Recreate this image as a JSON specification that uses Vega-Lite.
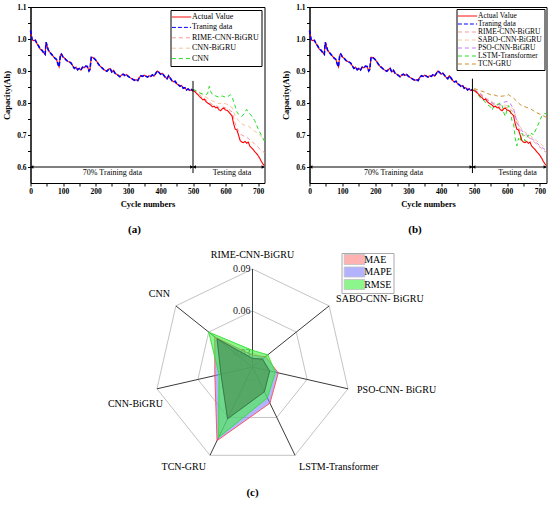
{
  "$schema": "https://vega.github.io/schema/vega-lite/v6.json",
  "padding": {"left": 1.5, "top": 2, "right": 3, "bottom": 3},
  "spacing": 15,
  "resolve": {"legend": {"fill": "independent", "color": "independent", "strokeDash": "independent"}},
  "config": {
    "font": "Liberation Serif",
    "view": {"stroke": "black", "strokeWidth": 1},
    "axis": {
      "labelFont": "Liberation Serif", "labelFontWeight": "bold", "labelFontSize": 7.5, "labelColor": "black",
      "titleFont": "Liberation Serif", "titleFontWeight": "bold", "titleFontSize": 8.5, "titleColor": "black",
      "domainColor": "black", "tickColor": "black", "tickSize": 3, "grid": false, "labelPadding": 1.5, "labelFlush": false
    },
    "axisX": {"titlePadding": 4},
    "axisY": {"titlePadding": 5},
    "legend": {
      "labelFont": "Liberation Serif", "labelFontSize": 8, "labelColor": "black",
      "strokeColor": "black", "fillColor": "white", "padding": 2.5, "rowPadding": 1.4,
      "symbolType": "M-2.4,0H2.4", "symbolSize": 64, "symbolOffset": 4, "symbolStrokeWidth": 1,
      "labelOffset": 6, "title": null
    },
    "title": {"font": "Liberation Serif", "fontSize": 11, "fontWeight": "bold", "color": "black"}
  },
  "datasets": {
    "actual": [
      {"cycle": 0, "cap": 1.027}, {"cycle": 3, "cap": 1.01}, {"cycle": 5, "cap": 0.998}, {"cycle": 10, "cap": 0.995},
      {"cycle": 15, "cap": 0.996}, {"cycle": 20, "cap": 0.985}, {"cycle": 25, "cap": 0.978}, {"cycle": 30, "cap": 0.968},
      {"cycle": 35, "cap": 0.965}, {"cycle": 40, "cap": 0.958}, {"cycle": 45, "cap": 0.952}, {"cycle": 48, "cap": 0.99},
      {"cycle": 52, "cap": 0.975}, {"cycle": 55, "cap": 0.965}, {"cycle": 60, "cap": 0.958}, {"cycle": 65, "cap": 0.952},
      {"cycle": 70, "cap": 0.946}, {"cycle": 75, "cap": 0.94}, {"cycle": 80, "cap": 0.936}, {"cycle": 85, "cap": 0.92},
      {"cycle": 88, "cap": 0.913}, {"cycle": 92, "cap": 0.95}, {"cycle": 95, "cap": 0.953}, {"cycle": 100, "cap": 0.944},
      {"cycle": 105, "cap": 0.94}, {"cycle": 110, "cap": 0.934}, {"cycle": 115, "cap": 0.93}, {"cycle": 120, "cap": 0.928},
      {"cycle": 125, "cap": 0.925}, {"cycle": 130, "cap": 0.916}, {"cycle": 135, "cap": 0.908}, {"cycle": 140, "cap": 0.912},
      {"cycle": 145, "cap": 0.904}, {"cycle": 150, "cap": 0.908}, {"cycle": 155, "cap": 0.903}, {"cycle": 160, "cap": 0.912},
      {"cycle": 165, "cap": 0.91}, {"cycle": 170, "cap": 0.915}, {"cycle": 175, "cap": 0.914}, {"cycle": 180, "cap": 0.9},
      {"cycle": 183, "cap": 0.905}, {"cycle": 187, "cap": 0.943}, {"cycle": 190, "cap": 0.943}, {"cycle": 195, "cap": 0.94},
      {"cycle": 200, "cap": 0.935}, {"cycle": 205, "cap": 0.928}, {"cycle": 210, "cap": 0.92}, {"cycle": 215, "cap": 0.914},
      {"cycle": 220, "cap": 0.91}, {"cycle": 225, "cap": 0.905}, {"cycle": 230, "cap": 0.902}, {"cycle": 235, "cap": 0.899},
      {"cycle": 240, "cap": 0.905}, {"cycle": 245, "cap": 0.908}, {"cycle": 250, "cap": 0.897}, {"cycle": 255, "cap": 0.902},
      {"cycle": 260, "cap": 0.893}, {"cycle": 265, "cap": 0.89}, {"cycle": 270, "cap": 0.886}, {"cycle": 275, "cap": 0.882},
      {"cycle": 280, "cap": 0.887}, {"cycle": 285, "cap": 0.89}, {"cycle": 290, "cap": 0.886}, {"cycle": 295, "cap": 0.889},
      {"cycle": 300, "cap": 0.884}, {"cycle": 305, "cap": 0.88}, {"cycle": 310, "cap": 0.877}, {"cycle": 315, "cap": 0.874},
      {"cycle": 320, "cap": 0.871}, {"cycle": 325, "cap": 0.873}, {"cycle": 330, "cap": 0.87}, {"cycle": 335, "cap": 0.88},
      {"cycle": 340, "cap": 0.885}, {"cycle": 345, "cap": 0.883}, {"cycle": 350, "cap": 0.887}, {"cycle": 355, "cap": 0.884},
      {"cycle": 360, "cap": 0.881}, {"cycle": 365, "cap": 0.885}, {"cycle": 370, "cap": 0.883}, {"cycle": 375, "cap": 0.888},
      {"cycle": 380, "cap": 0.884}, {"cycle": 385, "cap": 0.892}, {"cycle": 390, "cap": 0.9}, {"cycle": 395, "cap": 0.896},
      {"cycle": 400, "cap": 0.89}, {"cycle": 405, "cap": 0.893}, {"cycle": 410, "cap": 0.887}, {"cycle": 415, "cap": 0.88},
      {"cycle": 420, "cap": 0.876}, {"cycle": 425, "cap": 0.885}, {"cycle": 430, "cap": 0.878}, {"cycle": 435, "cap": 0.87},
      {"cycle": 440, "cap": 0.866}, {"cycle": 445, "cap": 0.868}, {"cycle": 450, "cap": 0.86}, {"cycle": 455, "cap": 0.857},
      {"cycle": 460, "cap": 0.852}, {"cycle": 465, "cap": 0.855}, {"cycle": 470, "cap": 0.846}, {"cycle": 475, "cap": 0.848},
      {"cycle": 480, "cap": 0.841}, {"cycle": 485, "cap": 0.844}, {"cycle": 490, "cap": 0.839}, {"cycle": 495, "cap": 0.842},
      {"cycle": 500, "cap": 0.838}, {"cycle": 505, "cap": 0.836}, {"cycle": 510, "cap": 0.831}, {"cycle": 515, "cap": 0.826},
      {"cycle": 520, "cap": 0.82}, {"cycle": 525, "cap": 0.816}, {"cycle": 530, "cap": 0.81}, {"cycle": 535, "cap": 0.812},
      {"cycle": 540, "cap": 0.804}, {"cycle": 545, "cap": 0.8}, {"cycle": 550, "cap": 0.797}, {"cycle": 555, "cap": 0.793},
      {"cycle": 560, "cap": 0.788}, {"cycle": 565, "cap": 0.79}, {"cycle": 570, "cap": 0.785}, {"cycle": 575, "cap": 0.786},
      {"cycle": 580, "cap": 0.779}, {"cycle": 585, "cap": 0.776}, {"cycle": 590, "cap": 0.782}, {"cycle": 595, "cap": 0.784},
      {"cycle": 600, "cap": 0.778}, {"cycle": 605, "cap": 0.777}, {"cycle": 610, "cap": 0.772}, {"cycle": 615, "cap": 0.766},
      {"cycle": 620, "cap": 0.76}, {"cycle": 625, "cap": 0.735}, {"cycle": 630, "cap": 0.718}, {"cycle": 635, "cap": 0.716},
      {"cycle": 640, "cap": 0.7}, {"cycle": 645, "cap": 0.683}, {"cycle": 650, "cap": 0.678}, {"cycle": 655, "cap": 0.676},
      {"cycle": 660, "cap": 0.68}, {"cycle": 665, "cap": 0.674}, {"cycle": 670, "cap": 0.678}, {"cycle": 675, "cap": 0.665},
      {"cycle": 680, "cap": 0.66}, {"cycle": 685, "cap": 0.655}, {"cycle": 690, "cap": 0.648}, {"cycle": 695, "cap": 0.643},
      {"cycle": 700, "cap": 0.636}, {"cycle": 705, "cap": 0.628}, {"cycle": 710, "cap": 0.618}, {"cycle": 715, "cap": 0.61},
      {"cycle": 720, "cap": 0.604}
    ],
    "predA": [
      {"series": "RIME-CNN-BiGRU", "cycle": 500, "cap": 0.84}, {"series": "RIME-CNN-BiGRU", "cycle": 510, "cap": 0.834},
      {"series": "RIME-CNN-BiGRU", "cycle": 520, "cap": 0.826}, {"series": "RIME-CNN-BiGRU", "cycle": 530, "cap": 0.816},
      {"series": "RIME-CNN-BiGRU", "cycle": 540, "cap": 0.81}, {"series": "RIME-CNN-BiGRU", "cycle": 550, "cap": 0.803},
      {"series": "RIME-CNN-BiGRU", "cycle": 560, "cap": 0.795}, {"series": "RIME-CNN-BiGRU", "cycle": 570, "cap": 0.792},
      {"series": "RIME-CNN-BiGRU", "cycle": 580, "cap": 0.786}, {"series": "RIME-CNN-BiGRU", "cycle": 590, "cap": 0.788},
      {"series": "RIME-CNN-BiGRU", "cycle": 600, "cap": 0.785}, {"series": "RIME-CNN-BiGRU", "cycle": 610, "cap": 0.78},
      {"series": "RIME-CNN-BiGRU", "cycle": 620, "cap": 0.772}, {"series": "RIME-CNN-BiGRU", "cycle": 630, "cap": 0.735},
      {"series": "RIME-CNN-BiGRU", "cycle": 640, "cap": 0.712}, {"series": "RIME-CNN-BiGRU", "cycle": 650, "cap": 0.7},
      {"series": "RIME-CNN-BiGRU", "cycle": 660, "cap": 0.695}, {"series": "RIME-CNN-BiGRU", "cycle": 670, "cap": 0.69},
      {"series": "RIME-CNN-BiGRU", "cycle": 680, "cap": 0.68}, {"series": "RIME-CNN-BiGRU", "cycle": 690, "cap": 0.672},
      {"series": "RIME-CNN-BiGRU", "cycle": 700, "cap": 0.662}, {"series": "RIME-CNN-BiGRU", "cycle": 710, "cap": 0.652},
      {"series": "RIME-CNN-BiGRU", "cycle": 720, "cap": 0.645},
      {"series": "CNN-BiGRU", "cycle": 500, "cap": 0.842}, {"series": "CNN-BiGRU", "cycle": 510, "cap": 0.838},
      {"series": "CNN-BiGRU", "cycle": 520, "cap": 0.832}, {"series": "CNN-BiGRU", "cycle": 530, "cap": 0.824},
      {"series": "CNN-BiGRU", "cycle": 540, "cap": 0.818}, {"series": "CNN-BiGRU", "cycle": 550, "cap": 0.812},
      {"series": "CNN-BiGRU", "cycle": 560, "cap": 0.806}, {"series": "CNN-BiGRU", "cycle": 570, "cap": 0.803},
      {"series": "CNN-BiGRU", "cycle": 580, "cap": 0.798}, {"series": "CNN-BiGRU", "cycle": 590, "cap": 0.8},
      {"series": "CNN-BiGRU", "cycle": 600, "cap": 0.798}, {"series": "CNN-BiGRU", "cycle": 610, "cap": 0.793},
      {"series": "CNN-BiGRU", "cycle": 620, "cap": 0.786}, {"series": "CNN-BiGRU", "cycle": 630, "cap": 0.76},
      {"series": "CNN-BiGRU", "cycle": 640, "cap": 0.745}, {"series": "CNN-BiGRU", "cycle": 650, "cap": 0.735},
      {"series": "CNN-BiGRU", "cycle": 660, "cap": 0.73}, {"series": "CNN-BiGRU", "cycle": 670, "cap": 0.728},
      {"series": "CNN-BiGRU", "cycle": 680, "cap": 0.72}, {"series": "CNN-BiGRU", "cycle": 690, "cap": 0.712},
      {"series": "CNN-BiGRU", "cycle": 700, "cap": 0.705}, {"series": "CNN-BiGRU", "cycle": 710, "cap": 0.695},
      {"series": "CNN-BiGRU", "cycle": 720, "cap": 0.685},
      {"series": "CNN", "cycle": 500, "cap": 0.843}, {"series": "CNN", "cycle": 510, "cap": 0.838},
      {"series": "CNN", "cycle": 520, "cap": 0.832}, {"series": "CNN", "cycle": 530, "cap": 0.828},
      {"series": "CNN", "cycle": 540, "cap": 0.826}, {"series": "CNN", "cycle": 545, "cap": 0.83},
      {"series": "CNN", "cycle": 550, "cap": 0.852}, {"series": "CNN", "cycle": 555, "cap": 0.835},
      {"series": "CNN", "cycle": 560, "cap": 0.826}, {"series": "CNN", "cycle": 570, "cap": 0.822},
      {"series": "CNN", "cycle": 580, "cap": 0.818}, {"series": "CNN", "cycle": 590, "cap": 0.822},
      {"series": "CNN", "cycle": 600, "cap": 0.818}, {"series": "CNN", "cycle": 610, "cap": 0.822},
      {"series": "CNN", "cycle": 615, "cap": 0.826}, {"series": "CNN", "cycle": 620, "cap": 0.82},
      {"series": "CNN", "cycle": 625, "cap": 0.805}, {"series": "CNN", "cycle": 630, "cap": 0.79},
      {"series": "CNN", "cycle": 635, "cap": 0.772}, {"series": "CNN", "cycle": 640, "cap": 0.765},
      {"series": "CNN", "cycle": 650, "cap": 0.758}, {"series": "CNN", "cycle": 660, "cap": 0.77},
      {"series": "CNN", "cycle": 665, "cap": 0.78}, {"series": "CNN", "cycle": 670, "cap": 0.772},
      {"series": "CNN", "cycle": 680, "cap": 0.76}, {"series": "CNN", "cycle": 690, "cap": 0.745},
      {"series": "CNN", "cycle": 700, "cap": 0.72}, {"series": "CNN", "cycle": 710, "cap": 0.7},
      {"series": "CNN", "cycle": 720, "cap": 0.68}
    ],
    "predB": [
      {"series": "RIME-CNN-BiGRU", "cycle": 500, "cap": 0.84}, {"series": "RIME-CNN-BiGRU", "cycle": 510, "cap": 0.834},
      {"series": "RIME-CNN-BiGRU", "cycle": 520, "cap": 0.826}, {"series": "RIME-CNN-BiGRU", "cycle": 530, "cap": 0.816},
      {"series": "RIME-CNN-BiGRU", "cycle": 540, "cap": 0.81}, {"series": "RIME-CNN-BiGRU", "cycle": 550, "cap": 0.803},
      {"series": "RIME-CNN-BiGRU", "cycle": 560, "cap": 0.795}, {"series": "RIME-CNN-BiGRU", "cycle": 570, "cap": 0.792},
      {"series": "RIME-CNN-BiGRU", "cycle": 580, "cap": 0.786}, {"series": "RIME-CNN-BiGRU", "cycle": 590, "cap": 0.788},
      {"series": "RIME-CNN-BiGRU", "cycle": 600, "cap": 0.785}, {"series": "RIME-CNN-BiGRU", "cycle": 610, "cap": 0.78},
      {"series": "RIME-CNN-BiGRU", "cycle": 620, "cap": 0.772}, {"series": "RIME-CNN-BiGRU", "cycle": 630, "cap": 0.735},
      {"series": "RIME-CNN-BiGRU", "cycle": 640, "cap": 0.712}, {"series": "RIME-CNN-BiGRU", "cycle": 650, "cap": 0.7},
      {"series": "RIME-CNN-BiGRU", "cycle": 660, "cap": 0.695}, {"series": "RIME-CNN-BiGRU", "cycle": 670, "cap": 0.69},
      {"series": "RIME-CNN-BiGRU", "cycle": 680, "cap": 0.68}, {"series": "RIME-CNN-BiGRU", "cycle": 690, "cap": 0.672},
      {"series": "RIME-CNN-BiGRU", "cycle": 700, "cap": 0.662}, {"series": "RIME-CNN-BiGRU", "cycle": 710, "cap": 0.652},
      {"series": "RIME-CNN-BiGRU", "cycle": 720, "cap": 0.645},
      {"series": "SABO-CNN-BiGRU", "cycle": 500, "cap": 0.842}, {"series": "SABO-CNN-BiGRU", "cycle": 510, "cap": 0.837},
      {"series": "SABO-CNN-BiGRU", "cycle": 520, "cap": 0.83}, {"series": "SABO-CNN-BiGRU", "cycle": 530, "cap": 0.821},
      {"series": "SABO-CNN-BiGRU", "cycle": 540, "cap": 0.813}, {"series": "SABO-CNN-BiGRU", "cycle": 550, "cap": 0.807},
      {"series": "SABO-CNN-BiGRU", "cycle": 560, "cap": 0.8}, {"series": "SABO-CNN-BiGRU", "cycle": 570, "cap": 0.797},
      {"series": "SABO-CNN-BiGRU", "cycle": 580, "cap": 0.792}, {"series": "SABO-CNN-BiGRU", "cycle": 590, "cap": 0.794},
      {"series": "SABO-CNN-BiGRU", "cycle": 600, "cap": 0.792}, {"series": "SABO-CNN-BiGRU", "cycle": 610, "cap": 0.788},
      {"series": "SABO-CNN-BiGRU", "cycle": 620, "cap": 0.78}, {"series": "SABO-CNN-BiGRU", "cycle": 630, "cap": 0.748},
      {"series": "SABO-CNN-BiGRU", "cycle": 640, "cap": 0.725}, {"series": "SABO-CNN-BiGRU", "cycle": 650, "cap": 0.712},
      {"series": "SABO-CNN-BiGRU", "cycle": 660, "cap": 0.705}, {"series": "SABO-CNN-BiGRU", "cycle": 670, "cap": 0.7},
      {"series": "SABO-CNN-BiGRU", "cycle": 680, "cap": 0.69}, {"series": "SABO-CNN-BiGRU", "cycle": 690, "cap": 0.682},
      {"series": "SABO-CNN-BiGRU", "cycle": 700, "cap": 0.674}, {"series": "SABO-CNN-BiGRU", "cycle": 710, "cap": 0.666},
      {"series": "SABO-CNN-BiGRU", "cycle": 720, "cap": 0.66},
      {"series": "PSO-CNN-BiGRU", "cycle": 500, "cap": 0.841}, {"series": "PSO-CNN-BiGRU", "cycle": 510, "cap": 0.835},
      {"series": "PSO-CNN-BiGRU", "cycle": 520, "cap": 0.828}, {"series": "PSO-CNN-BiGRU", "cycle": 530, "cap": 0.818},
      {"series": "PSO-CNN-BiGRU", "cycle": 540, "cap": 0.81}, {"series": "PSO-CNN-BiGRU", "cycle": 550, "cap": 0.804},
      {"series": "PSO-CNN-BiGRU", "cycle": 560, "cap": 0.797}, {"series": "PSO-CNN-BiGRU", "cycle": 570, "cap": 0.796},
      {"series": "PSO-CNN-BiGRU", "cycle": 580, "cap": 0.795}, {"series": "PSO-CNN-BiGRU", "cycle": 590, "cap": 0.802},
      {"series": "PSO-CNN-BiGRU", "cycle": 600, "cap": 0.805}, {"series": "PSO-CNN-BiGRU", "cycle": 610, "cap": 0.798},
      {"series": "PSO-CNN-BiGRU", "cycle": 620, "cap": 0.782}, {"series": "PSO-CNN-BiGRU", "cycle": 630, "cap": 0.742},
      {"series": "PSO-CNN-BiGRU", "cycle": 640, "cap": 0.72}, {"series": "PSO-CNN-BiGRU", "cycle": 650, "cap": 0.708},
      {"series": "PSO-CNN-BiGRU", "cycle": 660, "cap": 0.7}, {"series": "PSO-CNN-BiGRU", "cycle": 670, "cap": 0.694},
      {"series": "PSO-CNN-BiGRU", "cycle": 680, "cap": 0.685}, {"series": "PSO-CNN-BiGRU", "cycle": 690, "cap": 0.676},
      {"series": "PSO-CNN-BiGRU", "cycle": 700, "cap": 0.666}, {"series": "PSO-CNN-BiGRU", "cycle": 710, "cap": 0.658},
      {"series": "PSO-CNN-BiGRU", "cycle": 720, "cap": 0.652},
      {"series": "LSTM-Transformer", "cycle": 500, "cap": 0.842}, {"series": "LSTM-Transformer", "cycle": 510, "cap": 0.828},
      {"series": "LSTM-Transformer", "cycle": 520, "cap": 0.815}, {"series": "LSTM-Transformer", "cycle": 530, "cap": 0.808},
      {"series": "LSTM-Transformer", "cycle": 540, "cap": 0.795}, {"series": "LSTM-Transformer", "cycle": 550, "cap": 0.788},
      {"series": "LSTM-Transformer", "cycle": 555, "cap": 0.778}, {"series": "LSTM-Transformer", "cycle": 560, "cap": 0.79},
      {"series": "LSTM-Transformer", "cycle": 570, "cap": 0.795}, {"series": "LSTM-Transformer", "cycle": 580, "cap": 0.8},
      {"series": "LSTM-Transformer", "cycle": 585, "cap": 0.793}, {"series": "LSTM-Transformer", "cycle": 590, "cap": 0.77},
      {"series": "LSTM-Transformer", "cycle": 595, "cap": 0.758}, {"series": "LSTM-Transformer", "cycle": 600, "cap": 0.78},
      {"series": "LSTM-Transformer", "cycle": 605, "cap": 0.792}, {"series": "LSTM-Transformer", "cycle": 610, "cap": 0.775},
      {"series": "LSTM-Transformer", "cycle": 615, "cap": 0.745}, {"series": "LSTM-Transformer", "cycle": 620, "cap": 0.737},
      {"series": "LSTM-Transformer", "cycle": 625, "cap": 0.69}, {"series": "LSTM-Transformer", "cycle": 630, "cap": 0.666},
      {"series": "LSTM-Transformer", "cycle": 635, "cap": 0.69}, {"series": "LSTM-Transformer", "cycle": 640, "cap": 0.68},
      {"series": "LSTM-Transformer", "cycle": 645, "cap": 0.706}, {"series": "LSTM-Transformer", "cycle": 650, "cap": 0.695},
      {"series": "LSTM-Transformer", "cycle": 655, "cap": 0.68}, {"series": "LSTM-Transformer", "cycle": 660, "cap": 0.69},
      {"series": "LSTM-Transformer", "cycle": 665, "cap": 0.7}, {"series": "LSTM-Transformer", "cycle": 670, "cap": 0.696},
      {"series": "LSTM-Transformer", "cycle": 675, "cap": 0.706}, {"series": "LSTM-Transformer", "cycle": 680, "cap": 0.7},
      {"series": "LSTM-Transformer", "cycle": 690, "cap": 0.722}, {"series": "LSTM-Transformer", "cycle": 700, "cap": 0.745},
      {"series": "LSTM-Transformer", "cycle": 705, "cap": 0.758}, {"series": "LSTM-Transformer", "cycle": 710, "cap": 0.762},
      {"series": "LSTM-Transformer", "cycle": 715, "cap": 0.768}, {"series": "LSTM-Transformer", "cycle": 720, "cap": 0.764},
      {"series": "TCN-GRU", "cycle": 500, "cap": 0.845}, {"series": "TCN-GRU", "cycle": 510, "cap": 0.842},
      {"series": "TCN-GRU", "cycle": 520, "cap": 0.838}, {"series": "TCN-GRU", "cycle": 530, "cap": 0.835},
      {"series": "TCN-GRU", "cycle": 540, "cap": 0.83}, {"series": "TCN-GRU", "cycle": 550, "cap": 0.826},
      {"series": "TCN-GRU", "cycle": 560, "cap": 0.826}, {"series": "TCN-GRU", "cycle": 570, "cap": 0.822},
      {"series": "TCN-GRU", "cycle": 580, "cap": 0.821}, {"series": "TCN-GRU", "cycle": 590, "cap": 0.822},
      {"series": "TCN-GRU", "cycle": 600, "cap": 0.824}, {"series": "TCN-GRU", "cycle": 605, "cap": 0.826},
      {"series": "TCN-GRU", "cycle": 610, "cap": 0.822}, {"series": "TCN-GRU", "cycle": 620, "cap": 0.815},
      {"series": "TCN-GRU", "cycle": 630, "cap": 0.805}, {"series": "TCN-GRU", "cycle": 640, "cap": 0.795},
      {"series": "TCN-GRU", "cycle": 650, "cap": 0.79}, {"series": "TCN-GRU", "cycle": 660, "cap": 0.786},
      {"series": "TCN-GRU", "cycle": 670, "cap": 0.783}, {"series": "TCN-GRU", "cycle": 680, "cap": 0.776},
      {"series": "TCN-GRU", "cycle": 690, "cap": 0.77}, {"series": "TCN-GRU", "cycle": 700, "cap": 0.765},
      {"series": "TCN-GRU", "cycle": 710, "cap": 0.76}, {"series": "TCN-GRU", "cycle": 720, "cap": 0.755}
    ],
    "radar": [
      {"model": "RIME-CNN-BiGRU", "idx": 0, "MAE": 0.0261, "MAPE": 0.0284, "RMSE": 0.0319},
      {"model": "SABO-CNN- BiGRU", "idx": 1, "MAE": 0.0291, "MAPE": 0.0319, "RMSE": 0.034},
      {"model": "PSO-CNN- BiGRU", "idx": 2, "MAE": 0.0326, "MAPE": 0.0389, "RMSE": 0.0368},
      {"model": "LSTM-Transformer", "idx": 3, "MAE": 0.0396, "MAPE": 0.0487, "RMSE": 0.0445},
      {"model": "TCN-GRU", "idx": 4, "MAE": 0.0611, "MAPE": 0.0784, "RMSE": 0.0759},
      {"model": "CNN-BiGRU", "idx": 5, "MAE": 0.0431, "MAPE": 0.0476, "RMSE": 0.0445},
      {"model": "CNN", "idx": 6, "MAE": 0.0524, "MAPE": 0.0545, "RMSE": 0.06}
    ],
    "grid": [
      {"level": 0.03, "idx": 0}, {"level": 0.03, "idx": 1}, {"level": 0.03, "idx": 2}, {"level": 0.03, "idx": 3},
      {"level": 0.03, "idx": 4}, {"level": 0.03, "idx": 5}, {"level": 0.03, "idx": 6},
      {"level": 0.06, "idx": 0}, {"level": 0.06, "idx": 1}, {"level": 0.06, "idx": 2}, {"level": 0.06, "idx": 3},
      {"level": 0.06, "idx": 4}, {"level": 0.06, "idx": 5}, {"level": 0.06, "idx": 6},
      {"level": 0.09, "idx": 0}, {"level": 0.09, "idx": 1}, {"level": 0.09, "idx": 2}, {"level": 0.09, "idx": 3},
      {"level": 0.09, "idx": 4}, {"level": 0.09, "idx": 5}, {"level": 0.09, "idx": 6}
    ]
  },
  "vconcat": [
    {
      "spacing": 13,
      "resolve": {"scale": {"color": "independent", "strokeDash": "independent", "shape": "independent"},
                  "legend": {"color": "independent", "strokeDash": "independent"}},
      "hconcat": [
        {
          "width": 234,
          "height": 176,
          "title": {"text": "(a)", "orient": "bottom", "offset": 16, "dx": -13},
          "encoding": {
            "x": {"field": "cycle", "type": "quantitative", "title": "Cycle numbers",
                  "scale": {"domain": [0, 720], "nice": false},
                  "axis": {"values": [0, 50, 100, 150, 200, 250, 300, 350, 400, 450, 500, 550, 600, 650, 700],
                           "labelExpr": "datum.value % 100 == 0 ? datum.label : ''"}},
            "y": {"field": "cap", "type": "quantitative", "title": "Capacity(Ah)",
                  "scale": {"domain": [0.55, 1.1], "nice": false, "zero": false},
                  "axis": {"values": [0.6, 0.65, 0.7, 0.75, 0.8, 0.85, 0.9, 0.95, 1.0, 1.05, 1.1], "format": ".1f",
                           "labelExpr": "round(datum.value * 100) % 10 == 0 ? datum.label : ''"}}
          },
          "layer": [
            {
              "data": {"name": "predA"},
              "mark": {"type": "line", "strokeWidth": 1},
              "encoding": {
                "color": {"field": "series", "type": "nominal",
                          "scale": {"domain": ["Actual Value", "Traning data", "RIME-CNN-BiGRU", "CNN-BiGRU", "CNN"],
                                    "range": ["#ff0000", "#0000ff", "#f59a9a", "#f7c29a", "#22dd22"]},
                          "legend": {"orient": "top-right", "offset": 3}},
                "strokeDash": {"field": "series", "type": "nominal",
                               "scale": {"domain": ["Actual Value", "Traning data", "RIME-CNN-BiGRU", "CNN-BiGRU", "CNN"],
                                         "range": [[1, 0], [4, 2], [4, 3], [4, 3], [4, 3]]},
                               "legend": {"orient": "top-right", "offset": 3}}
              }
            },
            {
              "data": {"name": "actual"},
              "transform": [{"calculate": "'Actual Value'", "as": "series"}],
              "mark": {"type": "line", "strokeWidth": 1.1},
              "encoding": {
                "color": {"field": "series", "type": "nominal"},
                "strokeDash": {"field": "series", "type": "nominal"}
              }
            },
            {
              "data": {"name": "actual"},
              "transform": [{"filter": "datum.cycle <= 500"}, {"calculate": "'Traning data'", "as": "series"}],
              "mark": {"type": "line", "strokeWidth": 1.6},
              "encoding": {
                "color": {"field": "series", "type": "nominal"},
                "strokeDash": {"field": "series", "type": "nominal"}
              }
            },
            {
              "data": {"values": [{"cycle": 500, "cap": 0.581, "cap2": 0.869}]},
              "mark": {"type": "rule", "color": "black", "strokeWidth": 1},
              "encoding": {"y2": {"field": "cap2"}}
            },
            {
              "data": {"values": [{"cycle": 1, "cycle2": 499, "cap": 0.6}, {"cycle": 501, "cycle2": 719, "cap": 0.6}]},
              "mark": {"type": "rule", "color": "black", "strokeWidth": 1},
              "encoding": {"x2": {"field": "cycle2"}}
            },
            {
              "data": {"values": [{"cycle": 4, "cap": 0.6, "dir": "l"}, {"cycle": 496, "cap": 0.6, "dir": "r"},
                                  {"cycle": 504, "cap": 0.6, "dir": "l"}, {"cycle": 716, "cap": 0.6, "dir": "r"}]},
              "mark": {"type": "point", "filled": true, "color": "black", "size": 14, "opacity": 1},
              "encoding": {"shape": {"field": "dir", "type": "nominal",
                                     "scale": {"domain": ["l", "r"], "range": ["triangle-left", "triangle-right"]},
                                     "legend": null}}
            },
            {
              "data": {"values": [{"cycle": 252, "cap": 0.581, "label": "70% Training data"},
                                  {"cycle": 620, "cap": 0.581, "label": "Testing data"}]},
              "mark": {"type": "text", "fontSize": 8, "baseline": "middle", "color": "black"},
              "encoding": {"text": {"field": "label"}}
            }
          ]
        },
        {
          "width": 237,
          "height": 176,
          "title": {"text": "(b)", "orient": "bottom", "offset": 16, "dx": -13},
          "encoding": {
            "x": {"field": "cycle", "type": "quantitative", "title": "Cycle numbers",
                  "scale": {"domain": [0, 720], "nice": false},
                  "axis": {"values": [0, 50, 100, 150, 200, 250, 300, 350, 400, 450, 500, 550, 600, 650, 700],
                           "labelExpr": "datum.value % 100 == 0 ? datum.label : ''"}},
            "y": {"field": "cap", "type": "quantitative", "title": "Capacity(Ah)",
                  "scale": {"domain": [0.55, 1.1], "nice": false, "zero": false},
                  "axis": {"values": [0.6, 0.65, 0.7, 0.75, 0.8, 0.85, 0.9, 0.95, 1.0, 1.05, 1.1], "format": ".1f",
                           "labelExpr": "round(datum.value * 100) % 10 == 0 ? datum.label : ''"}}
          },
          "layer": [
            {
              "data": {"name": "predB"},
              "mark": {"type": "line", "strokeWidth": 1},
              "encoding": {
                "color": {"field": "series", "type": "nominal",
                          "scale": {"domain": ["Actual Value", "Traning data", "RIME-CNN-BiGRU", "SABO-CNN-BiGRU", "PSO-CNN-BiGRU", "LSTM-Transformer", "TCN-GRU"],
                                    "range": ["#ff0000", "#0000ff", "#f59a9a", "#f7c8a0", "#c07cf5", "#22dd22", "#c8922e"]},
                          "legend": {"orient": "top-right", "offset": 2, "rowPadding": 0, "labelFontSize": 7.5, "labelOffset": 6}},
                "strokeDash": {"field": "series", "type": "nominal",
                               "scale": {"domain": ["Actual Value", "Traning data", "RIME-CNN-BiGRU", "SABO-CNN-BiGRU", "PSO-CNN-BiGRU", "LSTM-Transformer", "TCN-GRU"],
                                         "range": [[1, 0], [4, 2], [4, 3], [4, 3], [4, 3], [4, 3], [4, 3]]},
                               "legend": {"orient": "top-right", "offset": 2, "rowPadding": 0, "labelFontSize": 7.5, "labelOffset": 6}}
              }
            },
            {
              "data": {"name": "actual"},
              "transform": [{"calculate": "'Actual Value'", "as": "series"}],
              "mark": {"type": "line", "strokeWidth": 1.1},
              "encoding": {
                "color": {"field": "series", "type": "nominal"},
                "strokeDash": {"field": "series", "type": "nominal"}
              }
            },
            {
              "data": {"name": "actual"},
              "transform": [{"filter": "datum.cycle <= 495"}, {"calculate": "'Traning data'", "as": "series"}],
              "mark": {"type": "line", "strokeWidth": 1.6},
              "encoding": {
                "color": {"field": "series", "type": "nominal"},
                "strokeDash": {"field": "series", "type": "nominal"}
              }
            },
            {
              "data": {"values": [{"cycle": 495, "cap": 0.581, "cap2": 0.876}]},
              "mark": {"type": "rule", "color": "black", "strokeWidth": 1},
              "encoding": {"y2": {"field": "cap2"}}
            },
            {
              "data": {"values": [{"cycle": 1, "cycle2": 494, "cap": 0.6}, {"cycle": 496, "cycle2": 719, "cap": 0.6}]},
              "mark": {"type": "rule", "color": "black", "strokeWidth": 1},
              "encoding": {"x2": {"field": "cycle2"}}
            },
            {
              "data": {"values": [{"cycle": 4, "cap": 0.6, "dir": "l"}, {"cycle": 491, "cap": 0.6, "dir": "r"},
                                  {"cycle": 499, "cap": 0.6, "dir": "l"}, {"cycle": 716, "cap": 0.6, "dir": "r"}]},
              "mark": {"type": "point", "filled": true, "color": "black", "size": 14, "opacity": 1},
              "encoding": {"shape": {"field": "dir", "type": "nominal",
                                     "scale": {"domain": ["l", "r"], "range": ["triangle-left", "triangle-right"]},
                                     "legend": null}}
            },
            {
              "data": {"values": [{"cycle": 255, "cap": 0.581, "label": "70% Training data"},
                                  {"cycle": 632, "cap": 0.581, "label": "Testing data"}]},
              "mark": {"type": "text", "fontSize": 8, "baseline": "middle", "color": "black"},
              "encoding": {"text": {"field": "label"}}
            }
          ]
        }
      ]
    },
    {
      "width": 444,
      "height": 230,
      "view": {"stroke": null},
      "title": {"text": "(c)", "orient": "bottom", "offset": 5},
      "encoding": {
        "x": {"field": "px", "type": "quantitative", "axis": null,
              "scale": {"domain": [-2.2653, 2.2653], "nice": false, "zero": false}},
        "y": {"field": "py", "type": "quantitative", "axis": null,
              "scale": {"domain": [-1.1735, 1.1735], "nice": false, "zero": false}}
      },
      "layer": [
        {
          "data": {"name": "grid"},
          "transform": [
            {"calculate": "(datum.level - 0.02) / 0.07", "as": "u"},
            {"calculate": "datum.idx * 2 * PI / 7", "as": "a"},
            {"calculate": "datum.u * sin(datum.a)", "as": "px"},
            {"calculate": "datum.u * cos(datum.a)", "as": "py"}
          ],
          "mark": {"type": "line", "interpolate": "linear-closed", "color": "#c4c4c4", "strokeWidth": 1},
          "encoding": {"detail": {"field": "level"}, "order": {"field": "idx"}}
        },
        {
          "data": {"name": "radar"},
          "transform": [
            {"calculate": "datum.idx * 2 * PI / 7", "as": "a"},
            {"calculate": "sin(datum.a)", "as": "px"},
            {"calculate": "cos(datum.a)", "as": "py"}
          ],
          "mark": {"type": "rule", "color": "#3a3a3a", "strokeWidth": 1},
          "encoding": {"x2": {"datum": 0}, "y2": {"datum": 0}}
        },
        {
          "data": {"values": [{"level": 0.03}, {"level": 0.06}, {"level": 0.09}]},
          "transform": [
            {"calculate": "(datum.level - 0.02) / 0.07", "as": "py"},
            {"calculate": "0", "as": "px"},
            {"calculate": "format(datum.level, '.2f')", "as": "tick"}
          ],
          "mark": {"type": "text", "align": "right", "baseline": "middle", "dx": -2, "fontSize": 10, "color": "#222222"},
          "encoding": {"text": {"field": "tick", "type": "nominal"}}
        },
        {
          "data": {"name": "radar"},
          "transform": [
            {"fold": ["MAE", "MAPE", "RMSE"], "as": ["metric", "value"]},
            {"calculate": "(datum.value - 0.02) / 0.07", "as": "u"},
            {"calculate": "datum.idx * 2 * PI / 7", "as": "a"},
            {"calculate": "datum.u * sin(datum.a)", "as": "px"},
            {"calculate": "datum.u * cos(datum.a)", "as": "py"}
          ],
          "mark": {"type": "line", "interpolate": "linear-closed", "filled": true, "fillOpacity": 0.6, "strokeWidth": 0.9},
          "encoding": {
            "fill": {"field": "metric", "type": "nominal",
                     "scale": {"domain": ["MAE", "MAPE", "RMSE"], "range": ["#ff8080", "#8080ff", "#40f040"]},
                     "legend": {"orient": "none", "legendX": 311, "legendY": 1, "title": null,
                                "symbolType": "M-2.575,-1.25H2.575V1.25H-2.575Z", "symbolSize": 64, "symbolOffset": 6.5, "symbolOpacity": 0.6,
                                "symbolStrokeColor": "#999999", "symbolStrokeWidth": 0.8, "labelOffset": 4.7,
                                "labelFontSize": 10, "rowPadding": -1.5, "padding": 1.5, "strokeColor": "#aaaaaa"}},
            "stroke": {"field": "metric", "type": "nominal",
                       "scale": {"domain": ["MAE", "MAPE", "RMSE"], "range": ["#e07070", "#ff4d4d", "#35e035"]},
                       "legend": null},
            "order": {"field": "idx"}
          }
        },
        {
          "data": {"name": "radar"},
          "transform": [
            {"calculate": "(datum.MAE - 0.02) / 0.07", "as": "u"},
            {"calculate": "datum.idx * 2 * PI / 7", "as": "a"},
            {"calculate": "datum.u * sin(datum.a)", "as": "px"},
            {"calculate": "datum.u * cos(datum.a)", "as": "py"}
          ],
          "mark": {"type": "line", "interpolate": "linear-closed", "fill": "#1e5a2a", "fillOpacity": 0.3, "stroke": "#2d6e3a", "strokeWidth": 0.8},
          "encoding": {"order": {"field": "idx"}}
        },
        {
          "data": {"name": "radar"},
          "transform": [
            {"calculate": "datum.idx * 2 * PI / 7", "as": "a"},
            {"calculate": "sin(datum.a)", "as": "px"},
            {"calculate": "cos(datum.a)", "as": "py"},
            {"filter": "datum.idx == 0"}
          ],
          "mark": {"type": "text", "align": "center", "baseline": "middle", "dy": -14, "fontSize": 10, "color": "black"},
          "encoding": {"text": {"field": "model"}}
        },
        {
          "data": {"name": "radar"},
          "transform": [
            {"calculate": "datum.idx * 2 * PI / 7", "as": "a"},
            {"calculate": "sin(datum.a)", "as": "px"},
            {"calculate": "cos(datum.a)", "as": "py"},
            {"filter": "datum.idx == 1"}
          ],
          "mark": {"type": "text", "align": "left", "baseline": "middle", "dx": 7, "dy": -6.5, "fontSize": 10, "color": "black"},
          "encoding": {"text": {"field": "model"}}
        },
        {
          "data": {"name": "radar"},
          "transform": [
            {"calculate": "datum.idx * 2 * PI / 7", "as": "a"},
            {"calculate": "sin(datum.a)", "as": "px"},
            {"calculate": "cos(datum.a)", "as": "py"},
            {"filter": "datum.idx == 2"}
          ],
          "mark": {"type": "text", "align": "left", "baseline": "middle", "dx": 9, "dy": 1.5, "fontSize": 10, "color": "black"},
          "encoding": {"text": {"field": "model"}}
        },
        {
          "data": {"name": "radar"},
          "transform": [
            {"calculate": "datum.idx * 2 * PI / 7", "as": "a"},
            {"calculate": "sin(datum.a)", "as": "px"},
            {"calculate": "cos(datum.a)", "as": "py"},
            {"filter": "datum.idx == 3"}
          ],
          "mark": {"type": "text", "align": "left", "baseline": "middle", "dx": 4, "dy": 12, "fontSize": 10, "color": "black"},
          "encoding": {"text": {"field": "model"}}
        },
        {
          "data": {"name": "radar"},
          "transform": [
            {"calculate": "datum.idx * 2 * PI / 7", "as": "a"},
            {"calculate": "sin(datum.a)", "as": "px"},
            {"calculate": "cos(datum.a)", "as": "py"},
            {"filter": "datum.idx == 4"}
          ],
          "mark": {"type": "text", "align": "right", "baseline": "middle", "dx": -4, "dy": 12, "fontSize": 10, "color": "black"},
          "encoding": {"text": {"field": "model"}}
        },
        {
          "data": {"name": "radar"},
          "transform": [
            {"calculate": "datum.idx * 2 * PI / 7", "as": "a"},
            {"calculate": "sin(datum.a)", "as": "px"},
            {"calculate": "cos(datum.a)", "as": "py"},
            {"filter": "datum.idx == 5"}
          ],
          "mark": {"type": "text", "align": "right", "baseline": "middle", "dx": 6, "dy": 15, "fontSize": 10, "color": "black"},
          "encoding": {"text": {"field": "model"}}
        },
        {
          "data": {"name": "radar"},
          "transform": [
            {"calculate": "datum.idx * 2 * PI / 7", "as": "a"},
            {"calculate": "sin(datum.a)", "as": "px"},
            {"calculate": "cos(datum.a)", "as": "py"},
            {"filter": "datum.idx == 6"}
          ],
          "mark": {"type": "text", "align": "right", "baseline": "middle", "dx": -6, "dy": -12, "fontSize": 10, "color": "black"},
          "encoding": {"text": {"field": "model"}}
        }
      ]
    }
  ]
}
